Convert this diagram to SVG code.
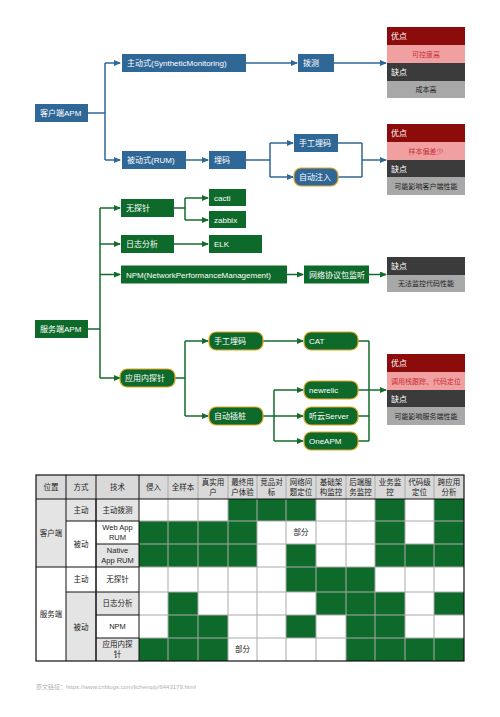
<svg xmlns="http://www.w3.org/2000/svg" width="500" height="717" viewBox="0 0 500 717">
<defs>
<marker id="ab" markerUnits="userSpaceOnUse" markerWidth="7" markerHeight="6" refX="6" refY="3" orient="auto"><path d="M0,0 L7,3 L0,6 Z" fill="#2f6797"/></marker>
<marker id="ag" markerUnits="userSpaceOnUse" markerWidth="7" markerHeight="6" refX="6" refY="3" orient="auto"><path d="M0,0 L7,3 L0,6 Z" fill="#146b2c"/></marker>
</defs>
<style>
text{font-family:"Liberation Sans","Noto Sans CJK SC",sans-serif;}
.b{fill:#2f6797;}
.g{fill:#0e6a2a;}
.r{stroke:#e8a623;stroke-width:1.2;}
.t{fill:#fff;font-size:8px;}
.cb{fill:none;stroke:#2f6797;stroke-width:1.5;}
.cg{fill:none;stroke:#146b2c;stroke-width:1.5;}
.p1{fill:#8c0b0b;}.p2{fill:#f0a0a0;}.p3{fill:#3b3b3b;}.p4{fill:#a8a8a8;}
.pt{fill:#fff;font-size:8px;}
.pr{fill:#c8303a;font-size:7px;text-anchor:middle;}
.pk{fill:#222;font-size:7px;text-anchor:middle;}
.th{fill:#d9d9d9;}
.lg{fill:#e4e4e4;}
.w{fill:#fff;}
.gc{fill:#0e6a2a;}
.tt{fill:#222;font-size:7.5px;text-anchor:middle;}
.grid{stroke:#aaa;stroke-width:1;fill:none;}
.blk{stroke:#111;stroke-width:1;fill:none;}
</style>
<rect width="500" height="717" fill="#fff"/>

<g id="connectors">
<path class="cb" d="M88,113 H105 M105,63 V160" />
<path class="cb" d="M105,63 H120" marker-end="url(#ab)"/>
<path class="cb" d="M105,160 H120" marker-end="url(#ab)"/>
<path class="cb" d="M246,63 H297" marker-end="url(#ab)"/>
<path class="cb" d="M334,63 H386" marker-end="url(#ab)"/>
<path class="cb" d="M186,160 H208" marker-end="url(#ab)"/>
<path class="cb" d="M246,160 H270 M270,143 V177"/>
<path class="cb" d="M270,143 H293" marker-end="url(#ab)"/>
<path class="cb" d="M270,177 H293" marker-end="url(#ab)"/>
<path class="cb" d="M338,143 H362 M338,177 H362 M362,143 V177"/>
<path class="cb" d="M362,160 H386" marker-end="url(#ab)"/>

<path class="cg" d="M88,329 H100 M100,208 V378"/>
<path class="cg" d="M100,208 H120" marker-end="url(#ag)"/>
<path class="cg" d="M100,244 H120" marker-end="url(#ag)"/>
<path class="cg" d="M100,274.5 H120" marker-end="url(#ag)"/>
<path class="cg" d="M100,378 H120" marker-end="url(#ag)"/>
<path class="cg" d="M174,208 H185 M185,198 V220"/>
<path class="cg" d="M185,198 H208" marker-end="url(#ag)"/>
<path class="cg" d="M185,220 H208" marker-end="url(#ag)"/>
<path class="cg" d="M174,244 H208" marker-end="url(#ag)"/>
<path class="cg" d="M287,274.5 H303" marker-end="url(#ag)"/>
<path class="cg" d="M369,274.5 H386" marker-end="url(#ag)"/>
<path class="cg" d="M175,378 H185 M185,341 V416"/>
<path class="cg" d="M185,341 H208" marker-end="url(#ag)"/>
<path class="cg" d="M185,416 H208" marker-end="url(#ag)"/>
<path class="cg" d="M263,341 H303" marker-end="url(#ag)"/>
<path class="cg" d="M263,416 H274 M274,390 V441"/>
<path class="cg" d="M274,390 H303" marker-end="url(#ag)"/>
<path class="cg" d="M274,416 H303" marker-end="url(#ag)"/>
<path class="cg" d="M274,441 H303" marker-end="url(#ag)"/>
<path class="cg" d="M358,341 H369 M358,390 H369 M358,416 H369 M358,441 H369 M369,341 V441"/>
<path class="cg" d="M369,390 H386" marker-end="url(#ag)"/>
</g>

<g id="client-apm"><rect class="b" x="35" y="104" width="53" height="18"/><text class="t" x="40" y="116">客户端APM</text></g>
<g id="active"><rect class="b" x="122" y="54" width="124" height="18"/><text class="t" x="127" y="66">主动式(SyntheticMonitoring)</text></g>
<g id="probe"><rect class="b" x="298" y="54" width="36" height="18"/><text class="t" x="303" y="66">拨测</text></g>
<g id="passive"><rect class="b" x="122" y="151" width="64" height="18"/><text class="t" x="127" y="163">被动式(RUM)</text></g>
<g id="bury"><rect class="b" x="209" y="151" width="37" height="18"/><text class="t" x="214" y="163">埋码</text></g>
<g id="manual-bury-c"><rect class="b" x="294" y="134" width="44" height="18"/><text class="t" x="299" y="146">手工埋码</text></g>
<g id="auto-inject"><rect class="b r" x="294" y="168" width="44" height="18" rx="7"/><text class="t" x="299" y="180">自动注入</text></g>

<g id="pc1">
<rect class="p1" x="387" y="27" width="78" height="18"/><text class="pt" x="391" y="39">优点</text>
<rect class="p2" x="387" y="45" width="78" height="18"/><text class="pr" x="426" y="57">可控度高</text>
<rect class="p3" x="387" y="63" width="78" height="18"/><text class="pt" x="391" y="75">缺点</text>
<rect class="p4" x="387" y="81" width="78" height="17"/><text class="pk" x="426" y="92">成本高</text>
</g>
<g id="pc2">
<rect class="p1" x="387" y="124" width="78" height="18"/><text class="pt" x="391" y="136">优点</text>
<rect class="p2" x="387" y="142" width="78" height="18"/><text class="pr" x="426" y="154">样本偏差少</text>
<rect class="p3" x="387" y="160" width="78" height="17"/><text class="pt" x="391" y="172">缺点</text>
<rect class="p4" x="387" y="177" width="78" height="18"/><text class="pk" x="426" y="189">可能影响客户端性能</text>
</g>

<g id="server-apm"><rect class="g" x="35" y="320" width="53" height="18"/><text class="t" x="40" y="332">服务端APM</text></g>
<g id="noprobe"><rect class="g" x="121" y="199" width="53" height="18"/><text class="t" x="126" y="211">无探针</text></g>
<g id="cacti"><rect class="g" x="209" y="189" width="37" height="17"/><text class="t" x="214" y="201">cacti</text></g>
<g id="zabbix"><rect class="g" x="209" y="211" width="37" height="17"/><text class="t" x="214" y="223">zabbix</text></g>
<g id="log"><rect class="g" x="121" y="235" width="53" height="18"/><text class="t" x="126" y="247">日志分析</text></g>
<g id="elk"><rect class="g" x="209" y="235" width="53" height="18"/><text class="t" x="214" y="247">ELK</text></g>
<g id="npm"><rect class="g" x="121" y="265.5" width="166" height="18"/><text class="t" x="126" y="277.5">NPM(NetworkPerformanceManagement)</text></g>
<g id="sniff"><rect class="g" x="304" y="265.5" width="65" height="18"/><text class="t" x="309" y="277.5">网络协议包监听</text></g>
<g id="pc3">
<rect class="p3" x="387" y="257" width="78" height="18"/><text class="pt" x="391" y="269">缺点</text>
<rect class="p4" x="387" y="275" width="78" height="17"/><text class="pk" x="426" y="286">无法监控代码性能</text>
</g>
<g id="inapp"><rect class="g r" x="120" y="369" width="55" height="18" rx="7"/><text class="t" x="125" y="381">应用内探针</text></g>
<g id="manual-bury-s"><rect class="g r" x="209" y="332" width="54" height="18" rx="7"/><text class="t" x="214" y="344">手工埋码</text></g>
<g id="auto-stub"><rect class="g r" x="209" y="407" width="54" height="18" rx="7"/><text class="t" x="214" y="419">自动插桩</text></g>
<g id="cat"><rect class="g r" x="304" y="332" width="54" height="18" rx="7"/><text class="t" x="309" y="344">CAT</text></g>
<g id="newrelic"><rect class="g r" x="304" y="381" width="54" height="18" rx="7"/><text class="t" x="309" y="393">newrelic</text></g>
<g id="tingyun"><rect class="g r" x="304" y="407" width="54" height="18" rx="7"/><text class="t" x="309" y="419">听云Server</text></g>
<g id="oneapm"><rect class="g r" x="304" y="432" width="54" height="18" rx="7"/><text class="t" x="309" y="444">OneAPM</text></g>
<g id="pc4">
<rect class="p1" x="387" y="354" width="78" height="18"/><text class="pt" x="391" y="366">优点</text>
<rect class="p2" x="387" y="372" width="78" height="18"/><text class="pr" x="426" y="384">调用栈跟踪、代码定位</text>
<rect class="p3" x="387" y="390" width="78" height="17"/><text class="pt" x="391" y="402">缺点</text>
<rect class="p4" x="387" y="407" width="78" height="18"/><text class="pk" x="426" y="419">可能影响服务端性能</text>
</g>

<g id="table">
<rect class="th" x="36" y="475" width="428" height="24"/>
<rect class="lg" x="36" y="499" width="30" height="68"/>
<rect class="w" x="36" y="567" width="30" height="94"/>
<rect class="lg" x="66" y="499" width="30" height="22"/>
<rect class="w" x="66" y="521" width="30" height="46"/>
<rect class="w" x="66" y="567" width="30" height="25"/>
<rect class="lg" x="66" y="592" width="30" height="69"/>
<rect class="lg" x="96" y="499" width="43" height="22"/>
<rect class="w" x="96" y="521" width="43" height="23"/>
<rect class="lg" x="96" y="544" width="43" height="23"/>
<rect class="w" x="96" y="567" width="43" height="25"/>
<rect class="lg" x="96" y="592" width="43" height="23"/>
<rect class="w" x="96" y="615" width="43" height="23"/>
<rect class="lg" x="96" y="638" width="43" height="23"/>
<rect class="gc" x="228" y="499" width="29" height="22"/>
<rect class="gc" x="257" y="499" width="29" height="22"/>
<rect class="gc" x="286" y="499" width="30" height="22"/>
<rect class="gc" x="375" y="499" width="30" height="22"/>
<rect class="gc" x="434" y="499" width="30" height="22"/>
<rect class="gc" x="139" y="521" width="29" height="23"/>
<rect class="gc" x="168" y="521" width="30" height="23"/>
<rect class="gc" x="198" y="521" width="30" height="23"/>
<rect class="gc" x="228" y="521" width="29" height="23"/>
<rect class="gc" x="375" y="521" width="30" height="23"/>
<rect class="gc" x="434" y="521" width="30" height="23"/>
<rect class="gc" x="139" y="544" width="29" height="23"/>
<rect class="gc" x="168" y="544" width="30" height="23"/>
<rect class="gc" x="198" y="544" width="30" height="23"/>
<rect class="gc" x="228" y="544" width="29" height="23"/>
<rect class="gc" x="286" y="544" width="30" height="23"/>
<rect class="gc" x="375" y="544" width="30" height="23"/>
<rect class="gc" x="405" y="544" width="29" height="23"/>
<rect class="gc" x="434" y="544" width="30" height="23"/>
<rect class="gc" x="286" y="567" width="30" height="25"/>
<rect class="gc" x="316" y="567" width="30" height="25"/>
<rect class="gc" x="346" y="567" width="29" height="25"/>
<rect class="gc" x="168" y="592" width="30" height="23"/>
<rect class="gc" x="316" y="592" width="30" height="23"/>
<rect class="gc" x="346" y="592" width="29" height="23"/>
<rect class="gc" x="375" y="592" width="30" height="23"/>
<rect class="gc" x="434" y="592" width="30" height="23"/>
<rect class="gc" x="168" y="615" width="30" height="23"/>
<rect class="gc" x="198" y="615" width="30" height="23"/>
<rect class="gc" x="286" y="615" width="30" height="23"/>
<rect class="gc" x="346" y="615" width="29" height="23"/>
<rect class="gc" x="375" y="615" width="30" height="23"/>
<rect class="gc" x="139" y="638" width="29" height="23"/>
<rect class="gc" x="168" y="638" width="30" height="23"/>
<rect class="gc" x="198" y="638" width="30" height="23"/>
<rect class="gc" x="346" y="638" width="29" height="23"/>
<rect class="gc" x="375" y="638" width="30" height="23"/>
<rect class="gc" x="405" y="638" width="29" height="23"/>
<rect class="gc" x="434" y="638" width="30" height="23"/>
<path class="grid" d="M168,475 V661 M198,475 V661 M228,475 V661 M257,475 V661 M286,475 V661 M316,475 V661 M346,475 V661 M375,475 V661 M405,475 V661 M434,475 V661 M139,521 H464 M139,544 H464 M139,567 H464 M139,592 H464 M139,615 H464 M139,638 H464"/>
<path class="blk" d="M36,499 H464 M66,475 V661 M96,475 V661 M139,475 V661 M66,567 H139 M66,521 H96 M96,521 H139 M96,544 H139 M96,592 H139 M96,615 H139 M96,638 H139 M66,592 H96 M36,567 H66 M96,499 V661"/>
<rect x="36" y="475" width="428" height="186" fill="none" stroke="#111" stroke-width="1.2"/>
<text class="tt" x="51" y="490">位置</text>
<text class="tt" x="81" y="490">方式</text>
<text class="tt" x="117.5" y="490">技术</text>
<text class="tt" x="153.5" y="490">侵入</text>
<text class="tt" x="183" y="490">全样本</text>
<text class="tt" x="213" y="485">真实用</text><text class="tt" x="213" y="495">户</text>
<text class="tt" x="242.5" y="485">最终用</text><text class="tt" x="242.5" y="495">户体验</text>
<text class="tt" x="271.5" y="485">竞品对</text><text class="tt" x="271.5" y="495">标</text>
<text class="tt" x="301" y="485">网络问</text><text class="tt" x="301" y="495">题定位</text>
<text class="tt" x="331" y="485">基础架</text><text class="tt" x="331" y="495">构监控</text>
<text class="tt" x="360.5" y="485">后端服</text><text class="tt" x="360.5" y="495">务监控</text>
<text class="tt" x="390" y="485">业务监</text><text class="tt" x="390" y="495">控</text>
<text class="tt" x="419.5" y="485">代码级</text><text class="tt" x="419.5" y="495">定位</text>
<text class="tt" x="449" y="485">跨应用</text><text class="tt" x="449" y="495">分析</text>
<text class="tt" x="51" y="536">客户端</text>
<text class="tt" x="51" y="617">服务端</text>
<text class="tt" x="81" y="513">主动</text>
<text class="tt" x="81" y="547">被动</text>
<text class="tt" x="81" y="582">主动</text>
<text class="tt" x="81" y="630">被动</text>
<text class="tt" x="117.5" y="513">主动拨测</text>
<text class="tt" x="117.5" y="530">Web App</text><text class="tt" x="117.5" y="540">RUM</text>
<text class="tt" x="117.5" y="553">Native</text><text class="tt" x="117.5" y="563">App RUM</text>
<text class="tt" x="117.5" y="582">无探针</text>
<text class="tt" x="117.5" y="606">日志分析</text>
<text class="tt" x="117.5" y="629">NPM</text>
<text class="tt" x="117.5" y="647">应用内探</text><text class="tt" x="117.5" y="657">针</text>
<text class="tt" x="301" y="535">部分</text>
<text class="tt" x="242.5" y="652">部分</text>
</g>

<text x="36" y="689" font-family="Liberation Serif, Noto Sans CJK SC, serif" font-size="6" fill="#b0b0b0">原文链接：https://www.cnblogs.com/lichenq/p/6443179.html</text>
</svg>
